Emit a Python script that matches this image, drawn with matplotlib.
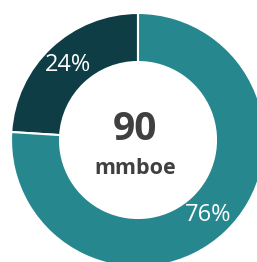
import matplotlib.pyplot as plt

# 데이터
shares = [24, 76]
colors = ['#0F3D45', '#26888E']
total = '90'
unit = 'mmboe'

fig = plt.figure(figsize=(2.57, 2.62), dpi=100)
ax = fig.add_axes([0, 0, 1, 1])

# 픽셀 단위 좌표 (중심 138,140 / 바깥 반지름 127)
wedges, texts, autotexts = ax.pie(
    shares, colors=colors, startangle=90, counterclock=True,
    radius=127, pctdistance=0.807,
    autopct=lambda p: f'{p:.0f}%',
    wedgeprops=dict(width=49, edgecolor='white', linewidth=1.5),
    textprops=dict(color='white', fontsize=17, family='Open Sans'))

ax.text(-3, 11, total, ha='center', va='center', fontsize=28,
        fontweight='bold', color='#404040', family='Open Sans')
ax.text(-3, -28, unit, ha='center', va='center', fontsize=15.5,
        fontweight='bold', color='#404040', family='Open Sans')

ax.set_xlim(-138, 257 - 138)
ax.set_ylim(-(262 - 140), 140)
ax.set_aspect('equal')
ax.axis('off')

fig.savefig('out.png', dpi=100)
